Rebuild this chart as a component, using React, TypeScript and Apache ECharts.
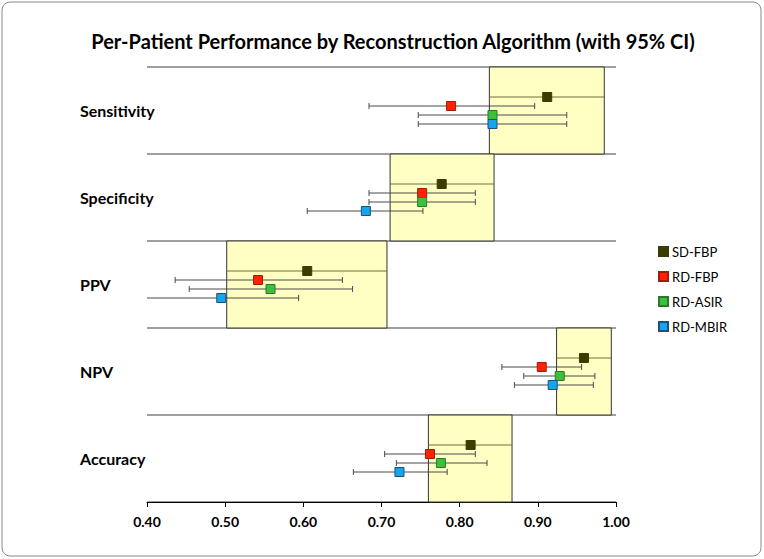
import React, { useEffect, useRef } from "react";
import * as echarts from "echarts";

const categories = ["Sensitivity", "Specificity", "PPV", "NPV", "Accuracy"];
const xTicks = [0.4, 0.5, 0.6, 0.7, 0.8, 0.9, 1.0];

const sdFbp = [0.912, 0.777, 0.605, 0.959, 0.814];
const sdFbpLo = [0.838, 0.711, 0.502, 0.924, 0.76];
const sdFbpHi = [0.985, 0.844, 0.707, 0.994, 0.867];

const rdFbp = [0.789, 0.752, 0.542, 0.905, 0.762];
const rdFbpLo = [0.684, 0.684, 0.436, 0.854, 0.704];
const rdFbpHi = [0.896, 0.82, 0.65, 0.956, 0.82];

const rdAsir = [0.842, 0.752, 0.558, 0.928, 0.776];
const rdAsirLo = [0.747, 0.684, 0.454, 0.882, 0.719];
const rdAsirHi = [0.937, 0.82, 0.663, 0.973, 0.835];

const rdMbir = [0.842, 0.68, 0.495, 0.919, 0.723];
const rdMbirLo = [0.747, 0.605, 0.39, 0.87, 0.664];
const rdMbirHi = [0.937, 0.753, 0.594, 0.971, 0.784];

const seriesDefs = [
  { name: "SD-FBP", v: sdFbp, lo: sdFbpLo, hi: sdFbpHi, color: "#3c3c00", border: "#3c3c00", dy: -13.5, caps: false, line: "#6e6e3a" },
  { name: "RD-FBP", v: rdFbp, lo: rdFbpLo, hi: rdFbpHi, color: "#ff2200", border: "#a31a10", dy: -4.5, caps: true, line: "#4a4a4a" },
  { name: "RD-ASIR", v: rdAsir, lo: rdAsirLo, hi: rdAsirHi, color: "#3cbf3c", border: "#2a7a2a", dy: 4.5, caps: true, line: "#4a4a4a" },
  { name: "RD-MBIR", v: rdMbir, lo: rdMbirLo, hi: rdMbirHi, color: "#14a6ec", border: "#1d4f78", dy: 13.5, caps: true, line: "#4a4a4a" },
];

export default function App() {
  const ref = useRef<HTMLDivElement>(null);
  useEffect(() => {
    if (!ref.current) return;
    const chart = echarts.init(ref.current, undefined, { renderer: "svg" });
    const font = "Lato, 'Open Sans', sans-serif";

    const boxSeries: any = {
      type: "custom",
      name: "box",
      silent: true,
      data: categories.map((_, i) => [sdFbpLo[i], sdFbpHi[i], i]),
      renderItem: (params: any, api: any) => {
        const a = api.coord([api.value(0), api.value(2)]);
        const b = api.coord([api.value(1), api.value(2)]);
        const bandH = api.size([0, 1])[1];
        return {
          type: "rect",
          shape: { x: a[0], y: a[1] - bandH / 2, width: b[0] - a[0], height: bandH },
          style: { fill: "#ffffc4", stroke: "#333333", lineWidth: 1 },
        };
      },
      z: 1,
    };

    const errSeries: any[] = seriesDefs.map((s) => ({
      type: "custom",
      name: s.name + "-ci",
      silent: true,
      data: categories.map((_, i) => [s.lo[i], s.hi[i], i]),
      renderItem: (params: any, api: any) => {
        const cs = params.coordSys;
        const a = api.coord([api.value(0), api.value(2)]);
        const b = api.coord([api.value(1), api.value(2)]);
        const y = a[1] + s.dy;
        let x1 = a[0];
        let leftCap = s.caps;
        if (x1 < cs.x) {
          x1 = cs.x;
          leftCap = false;
        }
        const x2 = b[0];
        const children: any[] = [
          { type: "line", shape: { x1, y1: y, x2, y2: y }, style: { stroke: s.line, lineWidth: 1 } },
        ];
        if (leftCap) children.push({ type: "line", shape: { x1, y1: y - 3, x2: x1, y2: y + 3 }, style: { stroke: s.line, lineWidth: 1 } });
        if (s.caps) children.push({ type: "line", shape: { x1: x2, y1: y - 3, x2, y2: y + 3 }, style: { stroke: s.line, lineWidth: 1 } });
        return { type: "group", children };
      },
      z: 2,
    }));

    const markerSeries: any[] = seriesDefs.map((s) => ({
      type: "scatter",
      name: s.name,
      symbol: "rect",
      symbolSize: 9,
      symbolOffset: [0, s.dy],
      itemStyle: { color: s.color, borderColor: s.border, borderWidth: 1, opacity: 1 },
      data: categories.map((_, i) => [s.v[i], i]),
      z: 3,
    }));

    chart.setOption({
      animation: false,
      title: {
        text: "Per-Patient Performance by Reconstruction Algorithm (with 95% CI)",
        left: 388,
        textAlign: "center",
        top: 26,
        textStyle: { fontFamily: font, fontSize: 20, fontWeight: "bold", color: "#000" },
      },
      legend: {
        orient: "vertical",
        left: 653,
        top: 240,
        itemWidth: 9,
        itemHeight: 9,
        itemGap: 12,
        icon: "rect",
        data: seriesDefs.map((s) => s.name),
        textStyle: { fontFamily: font, fontSize: 13, color: "#000", padding: [0, 0, 0, -1] },
      },
      graphic: [
        {
          type: "rect",
          shape: { x: 2, y: 2, width: 759, height: 554, r: 8 },
          style: { fill: "none", stroke: "#8a8a8a", lineWidth: 1 },
          silent: true,
        },
      ],
      grid: { left: 147, right: 148, top: 67, bottom: 57 },
      xAxis: {
        type: "value",
        min: 0.4,
        max: 1.0,
        interval: 0.1,
        axisLine: { show: true, lineStyle: { color: "#000", width: 1 } },
        axisTick: { show: true, length: 5, lineStyle: { color: "#000" } },
        splitLine: { show: false },
        axisLabel: {
          fontFamily: font,
          fontSize: 14,
          fontWeight: "bold",
          color: "#000",
          margin: 12,
          formatter: (v: number) => (xTicks.some((t) => Math.abs(t - v) < 1e-6) ? v.toFixed(2) : ""),
        },
      },
      yAxis: {
        type: "category",
        data: categories,
        inverse: true,
        boundaryGap: true,
        axisLine: { show: false },
        axisTick: { show: false },
        splitLine: { show: true, lineStyle: { color: "#7f7f7f", width: 1.5 } },
        axisLabel: {
          fontFamily: font,
          fontSize: 16,
          fontWeight: "bold",
          color: "#000",
          align: "left",
          margin: 67,
          padding: [0, 0, 3, 0],
        },
      },
      series: [boxSeries, ...errSeries, ...markerSeries],
    });
    return () => chart.dispose();
  }, []);
  return (
    <div
      ref={ref}
      style={{ position: "fixed", left: 0, top: 0, width: 764, height: 559, background: "#fff" }}
    />
  );
}
